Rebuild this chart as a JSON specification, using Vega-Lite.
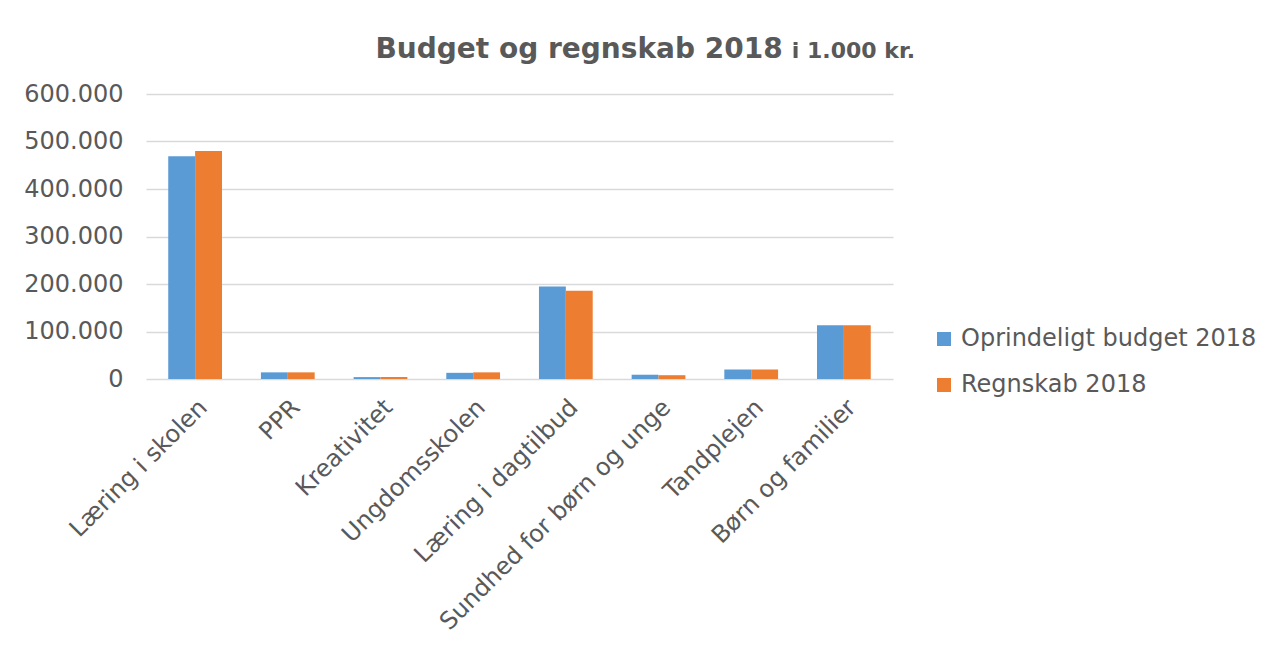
{
  "$schema": "https://vega.github.io/schema/vega-lite/v6.json",
  "autosize": {"type": "none"},
  "width": 747,
  "height": 285,
  "padding": {"left": 146, "top": 94, "right": 387, "bottom": 276},
  "background": "white",
  "title": {
    "text": "Budget og regnskab 2018\u00a0\u00a0\u00a0\u00a0\u00a0\u00a0\u00a0\u00a0\u00a0\u00a0\u00a0\u00a0\u00a0\u2009\u200b",
    "subtitle": "i 1.000 kr.",
    "anchor": "end",
    "frame": "group",
    "dx": 22,
    "font": "DejaVu Sans",
    "fontSize": 28,
    "fontWeight": "bold",
    "color": "#595959",
    "subtitleFont": "DejaVu Sans",
    "subtitleFontSize": 22,
    "subtitleFontWeight": "bold",
    "subtitleColor": "#595959",
    "subtitlePadding": -23,
    "offset": 18
  },
  "data": {
    "values": [
      {"omraade": "Læring i skolen", "serie": "Oprindeligt budget 2018", "beloeb": 469000},
      {"omraade": "Læring i skolen", "serie": "Regnskab 2018", "beloeb": 480000},
      {"omraade": "PPR", "serie": "Oprindeligt budget 2018", "beloeb": 14000},
      {"omraade": "PPR", "serie": "Regnskab 2018", "beloeb": 14000},
      {"omraade": "Kreativitet", "serie": "Oprindeligt budget 2018", "beloeb": 4000},
      {"omraade": "Kreativitet", "serie": "Regnskab 2018", "beloeb": 4000},
      {"omraade": "Ungdomsskolen", "serie": "Oprindeligt budget 2018", "beloeb": 13000},
      {"omraade": "Ungdomsskolen", "serie": "Regnskab 2018", "beloeb": 14000},
      {"omraade": "Læring i dagtilbud", "serie": "Oprindeligt budget 2018", "beloeb": 195000},
      {"omraade": "Læring i dagtilbud", "serie": "Regnskab 2018", "beloeb": 186000},
      {"omraade": "Sundhed for børn og unge", "serie": "Oprindeligt budget 2018", "beloeb": 9000},
      {"omraade": "Sundhed for børn og unge", "serie": "Regnskab 2018", "beloeb": 8000},
      {"omraade": "Tandplejen", "serie": "Oprindeligt budget 2018", "beloeb": 20000},
      {"omraade": "Tandplejen", "serie": "Regnskab 2018", "beloeb": 20000},
      {"omraade": "Børn og familier", "serie": "Oprindeligt budget 2018", "beloeb": 113000},
      {"omraade": "Børn og familier", "serie": "Regnskab 2018", "beloeb": 113000}
    ]
  },
  "mark": {"type": "bar"},
  "encoding": {
    "x": {
      "field": "omraade",
      "type": "nominal",
      "sort": null,
      "scale": {"paddingInner": 0.42, "paddingOuter": 0.24},
      "axis": {
        "title": null,
        "labelAngle": -45,
        "labelAlign": "right",
        "labelBaseline": "top",
        "labelFont": "DejaVu Sans",
        "labelFontSize": 24,
        "labelColor": "#595959",
        "labelPadding": 16,
        "labelLimit": 0,
        "ticks": false,
        "domain": false
      }
    },
    "xOffset": {"field": "serie", "type": "nominal", "sort": null},
    "y": {
      "field": "beloeb",
      "type": "quantitative",
      "scale": {"domain": [0, 600000], "nice": false},
      "axis": {
        "title": null,
        "values": [0, 100000, 200000, 300000, 400000, 500000, 600000],
        "labelExpr": "replace(format(datum.value, ','), ',', '.')",
        "labelFont": "DejaVu Sans",
        "labelFontSize": 24,
        "labelColor": "#595959",
        "labelPadding": 23,
        "ticks": false,
        "domain": false,
        "grid": true,
        "gridColor": "#d9d9d9",
        "gridWidth": 1.5
      }
    },
    "color": {
      "field": "serie",
      "type": "nominal",
      "sort": null,
      "scale": {"range": ["#5B9BD5", "#ED7D31"]},
      "legend": {
        "title": null,
        "orient": "none",
        "legendX": 786,
        "legendY": 233,
        "symbolType": "square",
        "symbolSize": 196,
        "symbolStrokeWidth": 0,
        "labelFont": "DejaVu Sans",
        "labelFontSize": 24,
        "labelColor": "#595959",
        "labelOffset": 5,
        "rowPadding": 22,
        "labelLimit": 0,
        "padding": 0
      }
    }
  },
  "config": {
    "view": {"stroke": null}
  }
}
